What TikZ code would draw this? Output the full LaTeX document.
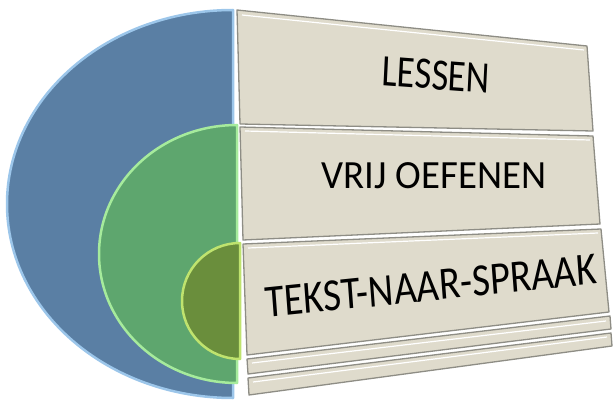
\documentclass[tikz,border=0pt]{standalone}
\usepackage{fontspec}
\setmainfont{Carlito}
\usepackage{xcolor}
\usepackage{tikz}
\usetikzlibrary{calc}

\definecolor{ringblue}{HTML}{5A7FA4}
\definecolor{rimblue}{HTML}{9CC6EA}
\definecolor{ringgreen}{HTML}{5EA66E}
\definecolor{rimgreen}{HTML}{A6EB9C}
\definecolor{ringolive}{HTML}{6A8E3C}
\definecolor{rimolive}{HTML}{BFE36E}
\definecolor{panel}{HTML}{DFDBCC}
\definecolor{panelline}{HTML}{8E8D85}

\begin{document}
\begin{tikzpicture}[
  x=1pt, y=-1pt,
  ring/.style={line width=2.5pt, line join=round},
  panelbox/.style={fill=panel, draw=panelline, line width=1.3pt, line join=round},
  gloss/.style={draw=white, line width=1.2pt},
  label/.style={inner sep=0pt, transform shape}
]
\useasboundingbox (0,0) rectangle (613,401);
% half rings
\draw[ring, fill=ringblue, draw=rimblue] (233,10) arc[start angle=270, end angle=90, x radius=226, y radius=194] -- cycle;
\draw[ring, fill=ringgreen, draw=rimgreen] (237,125) arc[start angle=270, end angle=90, x radius=138, y radius=129] -- cycle;
\draw[ring, fill=ringolive, draw=rimolive] (240,243) arc[start angle=270, end angle=90, x radius=58, y radius=58] -- cycle;
% panels
\draw[panelbox] (237,10) -- (587,46) -- (593,131) -- (240,124) -- cycle;
\draw[panelbox] (240,127) -- (593,136) -- (600,224) -- (243,240) -- cycle;
\draw[panelbox] (243,244) -- (601,229) -- (609,312) -- (247,355) -- cycle;
\draw[panelbox] (247,359) -- (610,316) -- (611,329) -- (248,374) -- cycle;
\draw[panelbox] (248,378) -- (611,333) -- (612,346) -- (249,395) -- cycle;
% highlights
\draw[gloss] (242,15) -- (584,50);
\draw[gloss] (245,131) -- (590,140);
\draw[gloss] (248,248) -- (598,233);
\draw[gloss] (252,363) -- (606,321);
\draw[gloss] (253,382) -- (607,337);
% labels
\node[label, font=\fontsize{45}{45}\selectfont, xscale=0.81, rotate=-3.5] (lessen) at (436,75) {LESSEN};
\node[label, font=\fontsize{40}{40}\selectfont, xscale=0.97] (vrij) at (434,176) {VRIJ OEFENEN};
\node[label, font=\fontsize{46}{46}\selectfont, xscale=0.85, rotate=5] (tts) at (431,286) {TEKST-NAAR-SPRAAK};
\end{tikzpicture}
\end{document}
